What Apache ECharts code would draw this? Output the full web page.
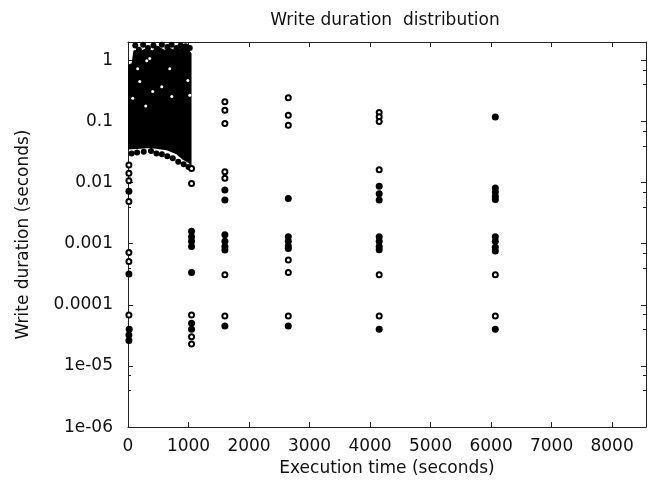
<!DOCTYPE html>
<html>
<head>
<meta charset="utf-8">
<script src="https://cdn.jsdelivr.net/npm/echarts@6.0.0/dist/echarts.min.js"></script>
<style>
  html, body { margin: 0; padding: 0; background: #fff; }
  #chart { width: 655px; height: 482px; }
</style>
</head>
<body>
<div id="chart"></div>
<script>
// Axis ranges and tick labels
const xMin = 0, xMax = 8560, xStep = 1000;
const yMin = 1e-6, yMax = 2;
const yTickLabels = ['1e-06', '1e-05', '0.0001', '0.001', '0.01', '0.1', '1'];

// Outline of the saturated band of writes during the first ~1050 s
const cloudTop = [
  [0, 0.85], [60, 0.9], [90, 1.45], [150, 1.5], [200, 1.4], [300, 1.6],
  [400, 1.45], [500, 1.7], [600, 1.5], [700, 1.6], [800, 1.45],
  [900, 1.7], [1000, 1.55], [1050, 1.3]
];
const cloudBottom = [
  [1050, 0.019], [1000, 0.021], [900, 0.024], [800, 0.029],
  [640, 0.034], [360, 0.037], [200, 0.036], [0, 0.035]
];

// Gaps visible inside the band
const cloudGaps = [
  [310, 0.99], [359, 1.07], [690, 0.73], [558, 0.37], [409, 0.31],
  [194, 0.45], [293, 0.18], [988, 0.47], [1021, 0.27], [724, 0.256],
  [160, 0.73], [78, 0.24]
];

// Ragged points along the band's edges
const edgePoints = [
  [120, 1.75], [180, 1.5], [250, 1.8], [330, 1.6], [420, 1.75], [480, 1.55],
  [560, 1.8], [650, 1.65], [720, 1.8], [800, 1.6], [870, 1.75], [950, 1.7],
  [1020, 1.6], [60, 0.03], [150, 0.031], [260, 0.032], [380, 0.033],
  [470, 0.03], [560, 0.029], [650, 0.027], [740, 0.025], [830, 0.022],
  [920, 0.02], [1000, 0.018]
];

// Write durations that pile up on the same value (dark dots)
const solidWrites = [
  [15, 0.0072], [15, 0.00032], [15, 3.2e-5], [15, 2.6e-5], [20, 4e-5],
  [1050, 0.0016], [1050, 0.0013], [1050, 0.0011], [1050, 0.0009],
  [1050, 0.00034], [1050, 5e-5], [1050, 4e-5],
  [1601, 0.0076], [1601, 0.0052], [1601, 0.0014], [1601, 0.0011],
  [1601, 0.0009], [1601, 0.00079], [1601, 4.5e-5],
  [2649, 0.0055], [2649, 0.0013], [2649, 0.0011], [2649, 0.00092],
  [2649, 0.00084], [2649, 4.5e-5],
  [4151, 0.0087], [4151, 0.0066], [4151, 0.0052], [4151, 0.0013],
  [4151, 0.0011], [4151, 0.0009], [4151, 0.0008], [4151, 4e-5],
  [6070, 0.119], [6070, 0.0082], [6070, 0.007], [6070, 0.006],
  [6070, 0.0053], [6070, 0.0013], [6070, 0.0011], [6070, 0.00088],
  [6070, 0.00076], [6070, 4e-5]
];

// Isolated write durations (open markers)
const singleWrites = [
  [15, 0.0194], [15, 0.0142], [15, 0.0107], [15, 0.0049], [15, 0.00072],
  [15, 0.00051], [15, 6.8e-5],
  [1050, 0.0171], [1050, 0.0097], [1050, 6.8e-5], [1050, 3e-5], [1050, 2.3e-5],
  [1601, 0.21], [1601, 0.153], [1601, 0.093], [1601, 0.0151], [1601, 0.0118],
  [1601, 0.00031], [1601, 6.6e-5],
  [2649, 0.244], [2649, 0.127], [2649, 0.087], [2649, 0.00054],
  [2649, 0.00034], [2649, 6.6e-5],
  [4151, 0.14], [4151, 0.12], [4151, 0.1], [4151, 0.0162],
  [4151, 0.00031], [4151, 6.6e-5],
  [6070, 0.00031], [6070, 6.6e-5]
];

const FONT = 'DejaVu Sans';
const INK = '#111';

function yLabel(v) {
  const e = Math.round(Math.log10(v));
  if (Math.abs(Math.log10(v) - e) > 1e-6) return '';
  const i = e + 6;
  return (i >= 0 && i < yTickLabels.length) ? yTickLabels[i] : '';
}

const lineStyle = { color: '#222', width: 1 };

const chart = echarts.init(document.getElementById('chart'), null, { renderer: 'canvas' });

chart.setOption({
  animation: false,
  backgroundColor: '#fff',
  title: {
    text: 'Write duration  distribution',
    left: 380,
    top: 7,
    textAlign: 'center',
    textStyle: { fontFamily: FONT, fontSize: 17, fontWeight: 'normal', color: INK }
  },
  grid: { left: 128, top: 42, right: 9, bottom: 53, containLabel: false },
  xAxis: [
    {
      type: 'value', min: xMin, max: xMax, interval: xStep, position: 'bottom',
      name: 'Execution time (seconds)', nameLocation: 'middle', nameGap: 27,
      nameTextStyle: { fontFamily: FONT, fontSize: 17, color: INK },
      axisLine: { show: true, onZero: false, lineStyle },
      axisTick: { show: true, inside: true, length: 5, lineStyle },
      axisLabel: {
        fontFamily: FONT, fontSize: 17, color: INK, margin: 11, showMaxLabel: false,
        formatter: v => String(Math.round(v))
      },
      splitLine: { show: false }
    },
    {
      type: 'value', min: xMin, max: xMax, interval: xStep, position: 'top',
      axisLine: { show: true, onZero: false, lineStyle },
      axisTick: { show: true, inside: true, length: 5, lineStyle },
      axisLabel: { show: false },
      splitLine: { show: false }
    }
  ],
  yAxis: [
    {
      type: 'log', logBase: 10, min: yMin, max: yMax, position: 'left',
      name: 'Write duration (seconds)', nameLocation: 'middle', nameGap: 96,
      nameTextStyle: { fontFamily: FONT, fontSize: 17, color: INK },
      axisLine: { show: true, onZero: false, lineStyle },
      axisTick: { show: true, inside: true, length: 5, lineStyle },
      minorTick: { show: true, splitNumber: 3, length: 3, lineStyle },
      axisLabel: { fontFamily: FONT, fontSize: 17, color: INK, margin: 15, formatter: yLabel },
      splitLine: { show: false }
    },
    {
      type: 'log', logBase: 10, min: yMin, max: yMax, position: 'right',
      axisLine: { show: true, onZero: false, lineStyle },
      axisTick: { show: true, inside: true, length: 5, lineStyle },
      minorTick: { show: true, splitNumber: 3, length: 3, lineStyle },
      axisLabel: { show: false },
      splitLine: { show: false }
    }
  ],
  series: [
    {
      type: 'custom',
      coordinateSystem: 'cartesian2d',
      xAxisIndex: 0, yAxisIndex: 0,
      clip: true,
      silent: true,
      data: [[0, 1]],
      renderItem: function (params, api) {
        const pts = cloudTop.concat(cloudBottom).map(p => api.coord(p));
        return {
          type: 'polygon',
          shape: { points: pts },
          style: { fill: '#000' }
        };
      },
      z: 1
    },
    {
      type: 'scatter', xAxisIndex: 0, yAxisIndex: 0,
      data: cloudGaps, symbol: 'circle', symbolSize: 3,
      itemStyle: { color: '#fff', opacity: 1 }, silent: true, z: 2
    },
    {
      type: 'scatter', xAxisIndex: 0, yAxisIndex: 0,
      data: edgePoints, symbol: 'circle', symbolSize: 6,
      itemStyle: { color: '#000', opacity: 1 }, silent: true, z: 3
    },
    {
      type: 'scatter', xAxisIndex: 0, yAxisIndex: 0,
      data: solidWrites, symbol: 'circle', symbolSize: 7,
      itemStyle: { color: '#000', opacity: 1 }, silent: true, z: 3
    },
    {
      type: 'scatter', xAxisIndex: 0, yAxisIndex: 0,
      data: singleWrites, symbol: 'emptyCircle', symbolSize: 5,
      itemStyle: { color: '#000', borderColor: '#000', borderWidth: 1.5, opacity: 1 },
      silent: true, z: 4
    }
  ]
});
</script>
</body>
</html>
